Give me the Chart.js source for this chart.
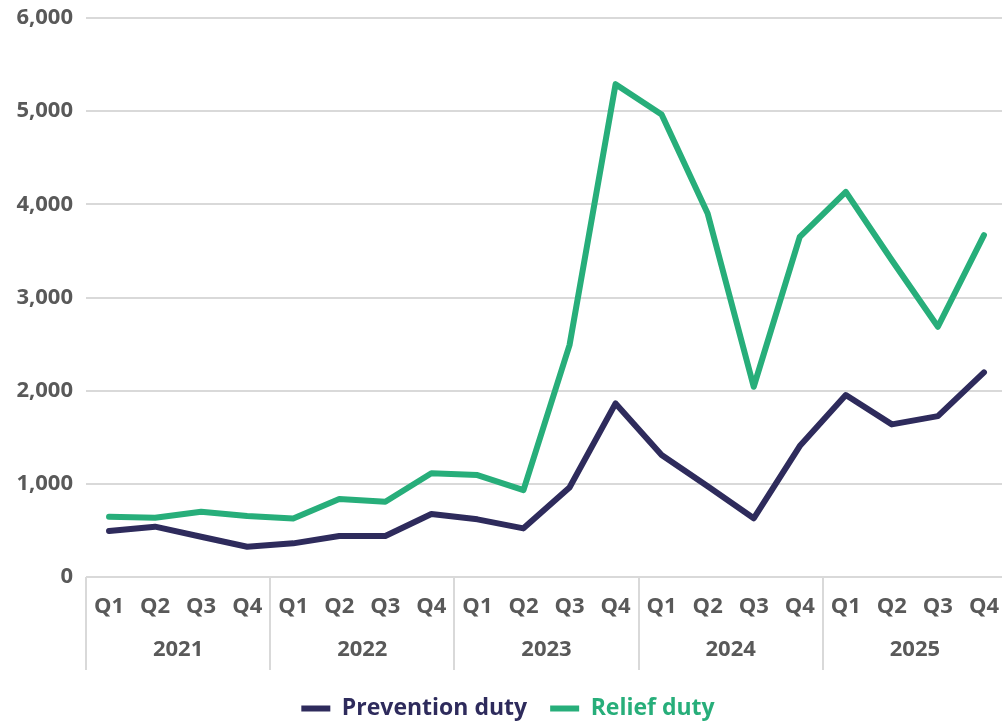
<!DOCTYPE html>
<html>
<head>
<meta charset="utf-8">
<script src="https://cdn.jsdelivr.net/npm/chart.js@4.4.1/dist/chart.umd.min.js"></script>
<style>
  html, body { margin: 0; padding: 0; background: #fff; overflow: hidden; }
  #wrap { position: relative; width: 1016px; height: 722px; }
</style>
</head>
<body>
<div id="wrap"><canvas id="chart"></canvas></div>
<script>
// quarterly figures, 2021 Q1 to 2025 Q4
const quarters = ['Q1','Q2','Q3','Q4','Q1','Q2','Q3','Q4','Q1','Q2','Q3','Q4',
                  'Q1','Q2','Q3','Q4','Q1','Q2','Q3','Q4'];
const years = ['2021','2022','2023','2024','2025'];
const prevention = [494, 540, 432, 325, 361, 440, 440, 676, 619, 522, 960, 1863,
                    1310, 975, 630, 1405, 1953, 1638, 1727, 2196];
const relief = [647, 636, 700, 655, 628, 837, 808, 1113, 1094, 933, 2489, 5290,
                4965, 3902, 2042, 3651, 4134, 3400, 2686, 3670];

const grey = '#595959';
const gridGrey = '#d9d9d9';
const fam = '"Open Sans", "Noto Sans", sans-serif';
const font = { family: fam, size: 22, weight: 'bold' };

// vertical separators between the year groups
const yearLines = {
  id: 'yearLines',
  afterDraw(chart) {
    const x = chart.scales.x;
    const ctx = chart.ctx;
    ctx.save();
    ctx.strokeStyle = gridGrey;
    ctx.lineWidth = 2;
    for (let i = 0; i <= quarters.length; i += 4) {
      const px = Math.round(x.getPixelForValue(i - 0.5));
      ctx.beginPath();
      ctx.moveTo(px, x.top);
      ctx.lineTo(px, x.bottom + 46);
      ctx.stroke();
    }
    ctx.restore();
  }
};

// fixed legend height
const legendHeight = {
  id: 'legendHeight',
  beforeInit(chart) {
    const fit = chart.legend.fit;
    chart.legend.fit = function () {
      fit.call(this);
      this.height = 48;
    };
  }
};

new Chart(document.getElementById('chart'), {
  type: 'line',
  data: {
    labels: quarters,
    datasets: [
      { label: 'Prevention duty', data: prevention, borderColor: '#2e2b5c', backgroundColor: '#2e2b5c',
        borderWidth: 6, pointRadius: 0, tension: 0, borderCapStyle: 'round', borderJoinStyle: 'round' },
      { label: 'Relief duty', data: relief, borderColor: '#27ae7a', backgroundColor: '#27ae7a',
        borderWidth: 6, pointRadius: 0, tension: 0, borderCapStyle: 'round', borderJoinStyle: 'round' }
    ]
  },
  options: {
    responsive: true,
    maintainAspectRatio: false,
    animation: false,
    layout: { padding: 0 },
    scales: {
      y: {
        min: 0, max: 6000,
        afterFit: s => { s.width = 86; s.paddingTop = 18; },
        ticks: { stepSize: 1000, color: grey, font: font, padding: 13,
                 callback: v => v.toLocaleString('en-GB') },
        grid: { color: gridGrey, lineWidth: 2, drawTicks: false },
        border: { display: false }
      },
      x: {
        weight: 1,
        offset: true,
        afterFit: s => { s.height = 47; },
        ticks: { color: grey, font: font, padding: 17, maxRotation: 0, autoSkip: false },
        grid: { display: false, drawTicks: false },
        border: { display: false }
      },
      year: {
        type: 'category',
        position: 'bottom',
        weight: 2,
        labels: years,
        offset: true,
        afterFit: s => { s.height = 50; },
        ticks: { color: grey, font: font, padding: 13, maxRotation: 0 },
        grid: { display: false, drawTicks: false },
        border: { display: false }
      }
    },
    plugins: {
      tooltip: { enabled: false },
      legend: {
        position: 'bottom',
        labels: {
          usePointStyle: true,
          pointStyle: 'line',
          pointStyleWidth: 29,
          padding: 23,
          font: { family: fam, size: 23, weight: 'bold' },
          generateLabels(chart) {
            const items = Chart.defaults.plugins.legend.labels.generateLabels(chart);
            items.forEach(it => { it.fontColor = it.strokeStyle; it.pointStyle = 'line'; });
            return items;
          }
        }
      }
    }
  },
  plugins: [yearLines, legendHeight]
});
</script>
</body>
</html>
